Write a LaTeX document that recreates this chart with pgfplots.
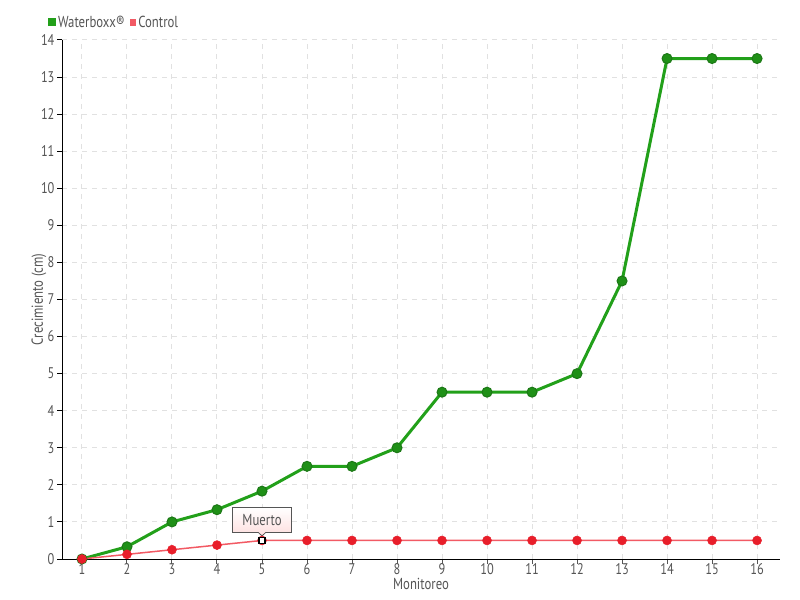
\documentclass[border=0pt]{standalone}
\usepackage{fontspec}
\setmainfont{PT Sans}[FakeStretch=0.8]
\usepackage{pgfplots}
\pgfplotsset{compat=1.18}
\usetikzlibrary{shapes.callouts}
\definecolor{wgreen}{RGB}{34,160,26}
\definecolor{wgreendark}{RGB}{28,120,22}
\definecolor{cred}{RGB}{232,30,42}
\definecolor{credline}{RGB}{242,90,100}
\definecolor{txtgray}{RGB}{85,85,85}
\definecolor{gridgray}{RGB}{225,225,225}
\begin{document}
\begin{tikzpicture}
\begin{axis}[
  scale only axis, width=718bp, height=519bp,
  xmin=0.556, xmax=16.51, ymin=0, ymax=14,
  axis lines*=left,
  axis line style={black, line width=1bp},
  xtick={1,...,16}, ytick={0,...,14},
  grid=major,
  major grid style={gridgray, dash pattern=on 5bp off 5bp, line width=1bp},
  tick label style={font=\fontsize{15.5}{17}\selectfont, text=txtgray},
  /pgf/number format/assume math mode=true,
  xtick style={txtgray, line width=1bp},
  ytick style={black, line width=1bp},
  x tick label style={yshift=4bp},
  y tick label style={xshift=1bp},
  tick align=outside,
  major tick length=5bp,
  xlabel={Monitoreo}, ylabel={Crecimiento (cm)},
  label style={font=\fontsize{16}{18}\selectfont, text=txtgray},
  xlabel style={at={(axis description cs:0.5,0)}, anchor=north, yshift=-16bp},
  ylabel style={at={(axis description cs:0,0.5)}, anchor=south, xshift=0bp, yshift=12bp},
  legend columns=2,
  legend style={at={(0,1)}, anchor=south west, xshift=-17bp, yshift=7bp, draw=none, fill=none,
    font=\fontsize{16}{18}\selectfont, text=txtgray,
    /tikz/every even column/.append style={column sep=3bp},
    /tikz/every odd column/.append style={column sep=0bp}},
  legend image code/.code={\fill[#1] (1bp,-2.5bp) rectangle (6bp,2.5bp);},
  clip=false,
]
\addplot[wgreen, line width=3bp, mark=*, mark size=5bp,
  mark options={fill=wgreen!90!black, draw=wgreendark, line width=1bp}]
  coordinates {(1,0) (2,0.33) (3,1.0) (4,1.33) (5,1.83) (6,2.5) (7,2.5) (8,3.0)
  (9,4.5) (10,4.5) (11,4.5) (12,5.0) (13,7.5) (14,13.5) (15,13.5) (16,13.5)};
\addlegendentry{Waterboxx®}
\addplot[credline, line width=1.5bp, mark=*, mark size=4.5bp,
  mark options={fill=cred, draw=cred, line width=0.5bp}]
  coordinates {(1,0) (2,0.125) (3,0.25) (4,0.375) (5,0.5) (6,0.5) (7,0.5) (8,0.5)
  (9,0.5) (10,0.5) (11,0.5) (12,0.5) (13,0.5) (14,0.5) (15,0.5) (16,0.5)};
\addlegendentry{Control}
\addplot[only marks, mark=square*, mark size=3bp, mark options={fill=white, draw=black, line width=1.2bp}, forget plot]
  coordinates {(5,0.5)};
\node[rectangle callout, callout absolute pointer={(axis cs:5,0.62)},
  draw=txtgray, line width=0.8bp, top color=white, bottom color={rgb,255:red,253;green,222;blue,222},
  text=txtgray, font=\fontsize{16}{18}\selectfont, minimum width=59bp, minimum height=25bp, inner sep=2bp]
  at (axis cs:5,1.05) {Muerto};
\end{axis}
\pgfresetboundingbox
\path ([shift={(-62bp,-41bp)}]current axis.south west) rectangle ([shift={(20bp,40bp)}]current axis.north east);
\end{tikzpicture}
\end{document}
